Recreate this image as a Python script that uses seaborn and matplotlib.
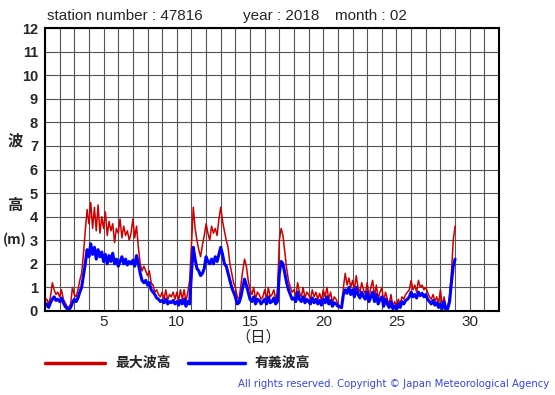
import numpy as np
import pandas as pd
import matplotlib
matplotlib.use("Agg")
import matplotlib.pyplot as plt
import seaborn as sns

# 3-hourly values starting at day 1.0 (8 per day), last value at day 29.0
max_wave = [
    0.4, 0.5, 0.3, 0.6, 1.2, 0.9, 0.7, 0.8,
    0.6, 0.9, 0.5, 0.35, 0.2, 0.15, 0.3, 1.0,
    0.7, 0.6, 0.9, 1.3, 1.6, 2.4, 3.4, 4.3,
    3.7, 4.6, 3.5, 4.4, 3.4, 4.5, 3.3, 4.0,
    3.5, 4.2, 3.2, 3.8, 3.4, 3.7, 2.9, 3.5,
    3.3, 3.9, 3.1, 3.6, 3.2, 3.4, 3.0, 3.3,
    3.9, 3.1, 3.6, 2.7, 2.0, 1.7, 1.9, 1.7,
    1.5, 1.7, 1.2, 1.1, 0.8, 0.9, 0.7, 0.6,
    0.8, 0.5, 0.9, 0.45, 0.7, 0.6, 0.8, 0.5,
    0.8, 0.45, 0.9, 0.5, 0.9, 0.4, 0.8, 1.3,
    2.8, 4.4, 3.5, 3.0, 2.6, 2.3, 2.8, 3.2,
    3.7, 3.3, 3.0, 3.6, 3.3, 3.5, 3.2, 3.9,
    4.4, 3.8, 3.4, 3.0, 2.7, 2.0, 1.6, 1.2,
    1.0, 0.6, 0.5, 1.1, 1.7, 2.2, 1.9, 1.3,
    0.9, 0.7, 1.0, 0.5, 0.8, 0.7, 0.5, 0.6,
    0.9, 0.5, 1.0, 0.6, 0.7, 0.9, 0.5, 0.8,
    3.0, 3.5, 3.2, 2.5, 1.8, 1.3, 1.0, 0.8,
    0.9, 0.6, 1.2, 0.8, 0.6, 1.0, 0.55, 0.8,
    0.7, 0.5, 0.9, 0.6, 0.8, 0.5, 0.75, 0.45,
    0.9, 0.6, 1.0, 0.5, 0.8, 0.35, 0.6, 0.5,
    0.3, np.nan, 0.1, 1.0, 1.6, 1.1, 1.4, 1.0,
    1.3, 0.9, 1.5, 1.0, 0.8, 1.2, 0.9, 0.7,
    1.2, 0.6, 1.0, 1.3, 0.6, 1.1, 0.5, 0.8,
    1.0, 0.4, 0.8, 0.5, 0.3, 0.7, 0.2, 0.4,
    0.15, 0.5, 0.3, 0.6, 0.5, 0.7, 0.8, 0.9,
    1.3, 0.9, 1.1, 0.8, 1.3, 1.0, 1.1, 0.9,
    1.0, 0.8, 0.6, 0.5, 0.7, 0.4, 0.6, 0.3,
    0.9, 0.2, 0.6, 0.1, 0.2, 0.6, 1.6, 3.0,
    3.6,
]

sig_wave = [
    0.2, 0.3, 0.15, 0.35, 0.5, 0.6, 0.45, 0.5,
    0.4, 0.55, 0.35, 0.2, 0.1, 0.05, 0.15, 0.35,
    0.5, 0.4, 0.55, 0.8, 1.0, 1.5, 2.0, 2.6,
    2.3, 2.85, 2.4, 2.7, 2.2, 2.6, 2.3, 2.5,
    2.1, 2.4, 2.0, 2.35, 2.1, 2.45, 2.0, 2.2,
    1.9, 2.1, 2.3, 2.0, 2.2, 1.95, 2.1, 2.0,
    2.15, 1.9, 2.35, 2.0, 1.6, 1.3, 1.2, 1.3,
    1.1, 1.2, 0.9, 0.8, 0.7, 0.55, 0.5, 0.4,
    0.45, 0.35, 0.5, 0.3, 0.4, 0.35, 0.45, 0.3,
    0.4, 0.25, 0.45, 0.3, 0.5, 0.2, 0.4, 0.3,
    1.6, 2.7, 2.2, 1.8, 1.7, 1.5, 1.6, 1.8,
    2.3, 2.1, 2.0, 2.2, 2.0, 2.3, 2.1, 2.4,
    2.7, 2.4, 2.0, 1.9, 1.6, 1.3, 1.0, 0.8,
    0.6, 0.3, 0.35, 0.6, 1.0, 1.35, 1.1, 0.8,
    0.5, 0.4, 0.6, 0.3, 0.5, 0.45, 0.3, 0.4,
    0.5, 0.3, 0.6, 0.35, 0.4, 0.55, 0.3, 0.4,
    1.6, 2.1, 2.0, 1.6, 1.2, 0.9, 0.7, 0.5,
    0.55, 0.4, 0.8, 0.5, 0.4, 0.6, 0.35, 0.5,
    0.4, 0.3, 0.55, 0.35, 0.5, 0.3, 0.45, 0.25,
    0.5, 0.35, 0.6, 0.3, 0.45, 0.2, 0.35, 0.3,
    0.2, np.nan, 0.15, 0.7, 0.9, 0.75, 1.0, 0.7,
    0.9, 0.6, 1.0, 0.7, 0.55, 0.8, 0.6, 0.5,
    0.8, 0.4, 0.6, 0.8, 0.4, 0.7, 0.3, 0.5,
    0.6, 0.2, 0.5, 0.3, 0.15, 0.4, 0.1, 0.2,
    0.05, 0.3, 0.15, 0.4, 0.3, 0.45, 0.5, 0.6,
    0.8, 0.6, 0.7, 0.55, 0.8, 0.65, 0.75, 0.6,
    0.7, 0.5, 0.4, 0.3, 0.45, 0.25, 0.35, 0.15,
    0.3, 0.1, 0.4, 0.05, 0.1, 0.4, 1.2, 1.9,
    2.2,
]

start_day = 1.0
steps_per_day = 8
x_tick_labels = [5, 10, 15, 20, 25, 30]
y_ticks = list(range(0, 13))

days = start_day + np.arange(len(max_wave)) / steps_per_day
df = pd.DataFrame({"day": days, "max": max_wave, "sig": sig_wave})

sns.set_style("white")
plt.rcParams["font.family"] = ["Liberation Sans", "DejaVu Sans"]

fig = plt.figure(figsize=(5.55, 3.95), dpi=100)
ax = fig.add_axes([45 / 555, (395 - 311) / 395, 454 / 555, 283 / 395])

sns.lineplot(data=df, x="day", y="max", ax=ax, color="#cc0000", linewidth=1.1)
sns.lineplot(data=df, x="day", y="sig", ax=ax, color="#0000ff", linewidth=2.2)

ax.set_xlim(1, 32)
ax.set_ylim(0, 12)
ax.set_xticks(np.arange(1, 33))
ax.set_xticklabels([str(d) if d in x_tick_labels else "" for d in range(1, 33)], fontsize=11)
ax.set_yticks(y_ticks)
ax.set_yticklabels([str(v) for v in y_ticks], fontsize=10.5, fontweight="bold")
ax.tick_params(axis="y", length=0, pad=5)
ax.tick_params(axis="x", length=0, pad=3)
ax.grid(True, color="#555555", linewidth=0.8)
ax.set_axisbelow(True)
for s in ax.spines.values():
    s.set_color("black")
    s.set_linewidth(1.5)
ax.set_xlabel("")
ax.set_ylabel("")

def fx(px):
    return px / 555

def fy(py):
    return 1 - py / 395

fig.text(fx(47), fy(16), "station number : 47816", fontsize=11, va="center", ha="left")
fig.text(fx(243), fy(16), "year : 2018", fontsize=11, va="center", ha="left")
fig.text(fx(335), fy(16), "month : 02", fontsize=11, va="center", ha="left")

cjk = ["Noto Sans CJK JP", "DejaVu Sans"]
fig.text(fx(15), fy(140), "波", fontsize=11, fontweight="bold", family=cjk, ha="center", va="center")
fig.text(fx(15), fy(205), "高", fontsize=11, fontweight="bold", family=cjk, ha="center", va="center")
fig.text(fx(15), fy(240), "(m)", fontsize=10, fontweight="bold", family=cjk, ha="center", va="center")
fig.text(fx(258), fy(337), "（日）", fontsize=11, family=cjk, ha="center", va="center")

fig.add_artist(plt.Line2D([fx(45), fx(105)], [fy(363), fy(363)], color="#cc0000", linewidth=2.5))
fig.text(fx(115), fy(363), "最大波高", fontsize=10, fontweight="bold", family=cjk, ha="left", va="center")
fig.add_artist(plt.Line2D([fx(188), fx(245)], [fy(363), fy(363)], color="#0000ff", linewidth=2.5))
fig.text(fx(255), fy(363), "有義波高", fontsize=10, fontweight="bold", family=cjk, ha="left", va="center")

fig.text(fx(549), fy(384), "All rights reserved. Copyright © Japan Meteorological Agency",
         fontsize=7.3, color="#3344ee", ha="right", va="center", family=["DejaVu Sans"])

fig.savefig("out.png", dpi=100)
